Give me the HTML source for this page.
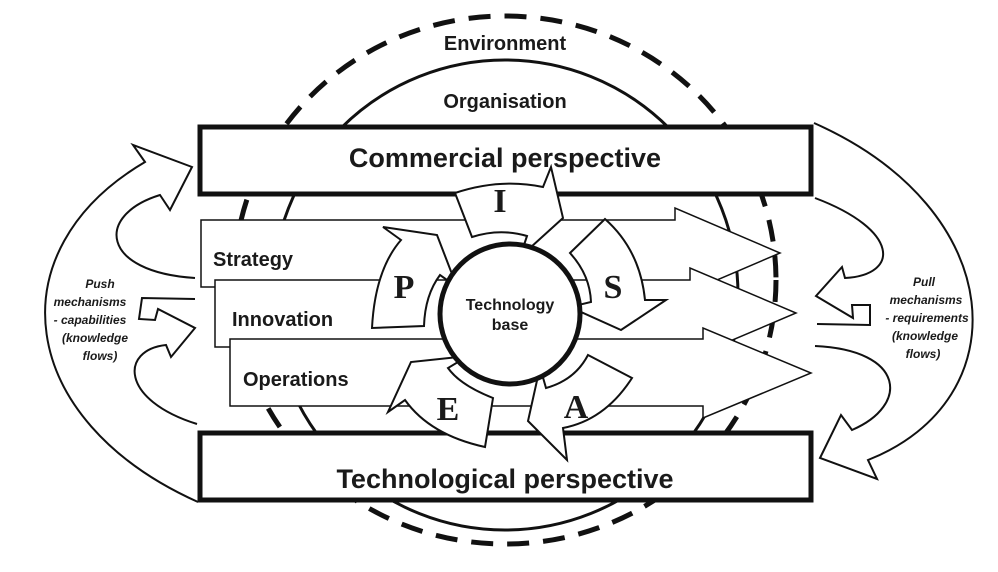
<!DOCTYPE html>
<html><head><meta charset="utf-8"><style>
html,body{margin:0;padding:0;background:#fff;}
svg{display:block;}
text{font-family:"Liberation Sans",Arial,sans-serif;font-weight:bold;fill:#1a1a1a;}
.s{font-family:"Liberation Serif",serif;font-size:34px;}
.it{font-style:italic;font-size:12px;}
</style></head><body>
<svg width="998" height="572" viewBox="0 0 998 572" xmlns="http://www.w3.org/2000/svg">
<ellipse cx="505" cy="280" rx="271" ry="264" fill="none" stroke="#111" stroke-width="5" stroke-dasharray="22,14"/>
<ellipse cx="505" cy="295" rx="233" ry="235" fill="none" stroke="#111" stroke-width="3"/>
<text x="505" y="50" font-size="20" text-anchor="middle">Environment</text>
<text x="505" y="108" font-size="20" text-anchor="middle">Organisation</text>
<rect x="200" y="127" width="611" height="67" fill="#fff" stroke="#111" stroke-width="5"/>
<rect x="200" y="433" width="611" height="67" fill="#fff" stroke="#111" stroke-width="5"/>
<text x="505" y="167" font-size="27" text-anchor="middle">Commercial perspective</text>
<text x="505" y="488" font-size="27" text-anchor="middle">Technological perspective</text>
<g fill="#fff" stroke="#111" stroke-width="1.5" stroke-linejoin="miter">
<polygon points="201,220 675,220 675,208 780,253 675,298 675,287 201,287"/>
<polygon points="215,280 690,280 690,268 796,313 690,358 690,347 215,347"/>
<polygon points="230,339 703,339 703,328 811,373 703,418 703,406 230,406"/>
</g>
<text x="213" y="266" font-size="20">Strategy</text>
<text x="232" y="326" font-size="20">Innovation</text>
<text x="243" y="386" font-size="20">Operations</text>
<g fill="#fff" stroke="#111" stroke-width="2" stroke-linejoin="miter">
<path d="M455,193 Q500,178 543,187 L551,167 L563,218 L520,257 L527,236 Q500,228 472,237 Z"/>
<path d="M372,328 Q375,270 401,240 L383,227 L437,235 L457,287 L440,275 Q425,295 424,326 Z"/>
<path d="M570,253 L605,219 Q640,250 645,300 L666,300 L621,330 L570,307 L591,302 Q590,275 570,253 Z"/>
<path d="M588,355 L632,378 Q605,420 563,428 L567,460 L528,421 L540,367 L546,388 Q575,380 588,355 Z"/>
<path d="M493,398 L485,447 Q430,435 405,400 L388,412 L411,362 L468,356 L448,368 Q460,385 493,398 Z"/>
</g>
<text class="s" x="500" y="212" text-anchor="middle">I</text>
<text class="s" x="404" y="298" text-anchor="middle">P</text>
<text class="s" x="613" y="298" text-anchor="middle">S</text>
<text class="s" x="576" y="418" text-anchor="middle">A</text>
<text class="s" x="448" y="420" text-anchor="middle">E</text>
<circle cx="510" cy="314" r="70" fill="#fff" stroke="#111" stroke-width="5"/>
<text x="510" y="310" font-size="16" text-anchor="middle">Technology</text>
<text x="510" y="330" font-size="16" text-anchor="middle">base</text>
<g fill="none" stroke="#111" stroke-width="2" stroke-linejoin="miter">
<path d="M198,502 C15,420 -5,250 145,162 L133,145 L192,167 L170,210 L160,195 C95,215 100,272 195,278"/>
<path d="M195,299 L142,298 L139,319 L155,320 L158,309 L195,328 L171,357 L166,345 C120,350 120,400 197,424"/>
<path d="M814,123 C1010,210 1020,400 868,460 L877,479 L820,458 L841,415 L852,430 C910,405 905,350 815,346"/>
<path d="M815,198 C900,230 900,275 845,278 L842,267 L816,296 L853,318 L852,305 L870,305 L870,325 L817,324"/>
</g>
<text class="it" x="100" y="288" text-anchor="middle">Push</text>
<text class="it" x="90" y="306" text-anchor="middle">mechanisms</text>
<text class="it" x="90" y="324" text-anchor="middle">- capabilities</text>
<text class="it" x="95" y="342" text-anchor="middle">(knowledge</text>
<text class="it" x="100" y="360" text-anchor="middle">flows)</text>
<text class="it" x="924" y="286" text-anchor="middle">Pull</text>
<text class="it" x="926" y="304" text-anchor="middle">mechanisms</text>
<text class="it" x="927" y="322" text-anchor="middle">- requirements</text>
<text class="it" x="925" y="340" text-anchor="middle">(knowledge</text>
<text class="it" x="923" y="358" text-anchor="middle">flows)</text>
</svg>
</body></html>
